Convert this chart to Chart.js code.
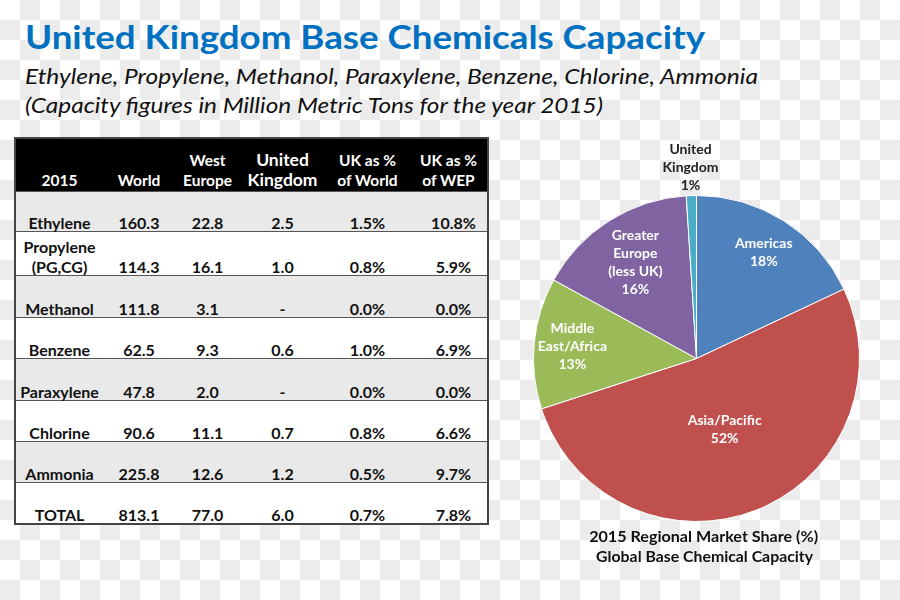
<!DOCTYPE html>
<html>
<head>
<meta charset="utf-8">
<script src="https://cdn.jsdelivr.net/npm/chart.js@4"></script>
<style>
  html, body { margin:0; padding:0; }
  body {
    width:900px; height:600px; position:relative; overflow:hidden;
    background: repeating-conic-gradient(#ececec 0 25%, #ffffff 0 50%) 0 0 / 40px 40px;
    font-family: Lato, "Open Sans", sans-serif;
  }
  .fit { position:absolute; white-space:nowrap; display:inline-block; transform-origin:0 0; line-height:1.2; }
  #title { left:25px; top:17px; font-size:33px; font-weight:bold; color:#0070c0; }
  #sub1 { left:25px; top:63px; font-size:22px; font-style:italic; color:#111; }
  #sub2 { left:25px; top:92px; font-size:22px; font-style:italic; color:#111; }
  #tbl { position:absolute; left:14px; top:137px; border-collapse:collapse; table-layout:fixed;
         border:2px solid #444; }
  #tbl td, #tbl th { padding:0 2px; text-align:center; vertical-align:bottom; font-weight:bold;
         font-size:16px; line-height:20px; color:#111; white-space:pre-line; }
  #tbl td span { position:relative; top:2px; }
  #tbl th { background:#000; color:#fff; height:51px; padding-bottom:1px; font-size:15.5px; }
  #tbl th.big { font-size:17.5px; }
  #tbl tr.g td { background:#e9e9e9; }
  #tbl tr.w td { background:#ffffff; }
  #tbl tr.row td { border-top:1.5px solid #555; }
  #pie { position:absolute; left:520px; top:140px; width:360px; height:400px; }
  .cap { position:absolute; font-size:16px; font-weight:bold; color:#111; transform-origin:50% 0; }
</style>
</head>
<body>
<div id="title" class="fit" data-w="680">United Kingdom Base Chemicals Capacity</div>
<div id="sub1" class="fit" data-w="733">Ethylene, Propylene, Methanol, Paraxylene, Benzene, Chlorine, Ammonia</div>
<div id="sub2" class="fit" data-w="578">(Capacity figures in Million Metric Tons for the year 2015)</div>
<table id="tbl"></table>
<div id="pie"><canvas id="c"></canvas></div>
<div id="cap1" class="fit cap" data-w="229" style="left:590px; top:526px;">2015 Regional Market Share (%)</div>
<div id="cap2" class="fit cap" data-w="217" style="left:595px; top:546px;">Global Base Chemical Capacity</div>
<script>
// ---- Table data ----
const headers = ["2015", "World", "West\nEurope", "United\nKingdom", "UK as %\nof World", "UK as %\nof WEP"];
const products = ["Ethylene", "Propylene (PG,CG)", "Methanol", "Benzene", "Paraxylene", "Chlorine", "Ammonia", "TOTAL"];
const world = [160.3, 114.3, 111.8, 62.5, 47.8, 90.6, 225.8, 813.1];
const westEurope = [22.8, 16.1, 3.1, 9.3, 2.0, 11.1, 12.6, 77.0];
const unitedKingdom = [2.5, 1.0, null, 0.6, null, 0.7, 1.2, 6.0];
const ukPctWorld = [1.5, 0.8, 0.0, 1.0, 0.0, 0.8, 0.5, 0.7];
const ukPctWEP = [10.8, 5.9, 0.0, 6.9, 0.0, 6.6, 9.7, 7.8];

// ---- Pie data ----
const regions = ["Americas", "Asia/Pacific", "Middle East/Africa", "Greater Europe (less UK)", "United Kingdom"];
const regionLines = [["Americas"], ["Asia/Pacific"], ["Middle", "East/Africa"], ["Greater", "Europe", "(less UK)"], ["United", "Kingdom"]];
const shares = [18, 52, 13, 16, 1];

// build table
const colW = [88, 72, 65, 85, 85, 78];
const rowH = [40, 44, 42, 41, 42, 41, 41, 41];
const tbl = document.getElementById('tbl');
const cg = document.createElement('colgroup');
colW.forEach(w => { const c = document.createElement('col'); c.style.width = w + 'px'; cg.appendChild(c); });
tbl.appendChild(cg);
const hr = document.createElement('tr');
headers.forEach((h, i) => {
  const th = document.createElement('th');
  th.textContent = h;
  if (i === 3) th.className = 'big';
  hr.appendChild(th);
});
tbl.appendChild(hr);
const fmt = v => v === null ? '-' : v.toFixed(1);
products.forEach((p, r) => {
  const tr = document.createElement('tr');
  tr.className = 'row ' + (r % 2 === 0 ? 'g' : 'w');
  const cells = [p, fmt(world[r]), fmt(westEurope[r]), fmt(unitedKingdom[r]), fmt(ukPctWorld[r]) + '%', fmt(ukPctWEP[r]) + '%'];
  cells.forEach((t, i) => {
    const td = document.createElement('td');
    const sp = document.createElement('span');
    sp.textContent = t;
    td.appendChild(sp);
    td.style.height = (rowH[r] - 1) + 'px';
    if (i === 5) td.style.paddingLeft = '12px';
    tr.appendChild(td);
  });
  tbl.appendChild(tr);
});

// fit text widths
document.querySelectorAll('.fit').forEach(el => {
  const target = +el.dataset.w;
  const w = el.getBoundingClientRect().width;
  if (w > 0) el.style.transform = 'scaleX(' + (target / w) + ')';
});

// pie labels plugin
const labelRadius = [0.77, 0.47, 0.765, 0.70, 1.17];
const labelColor = ['#fff', '#fff', '#fff', '#fff', '#222'];
const pieLabels = {
  id: 'pieLabels',
  afterDatasetsDraw(chart) {
    const ctx = chart.ctx;
    const meta = chart.getDatasetMeta(0);
    ctx.save();
    ctx.textAlign = 'center';
    ctx.textBaseline = 'middle';
    meta.data.forEach((arc, i) => {
      const p = arc.getProps(['x', 'y', 'startAngle', 'endAngle', 'outerRadius'], true);
      const mid = (p.startAngle + p.endAngle) / 2;
      const r = p.outerRadius * labelRadius[i];
      const cx = p.x + Math.cos(mid) * r;
      const cy = p.y + Math.sin(mid) * r;
      const lines = regionLines[i].concat([shares[i] + '%']);
      const lh = 18;
      ctx.fillStyle = labelColor[i];
      ctx.font = 'bold 14px Lato, "Open Sans", sans-serif';
      lines.forEach((t, k) => {
        ctx.fillText(t, cx, cy + (k - (lines.length - 1) / 2) * lh);
      });
    });
    ctx.restore();
  }
};

new Chart(document.getElementById('c'), {
  type: 'pie',
  data: {
    labels: regions,
    datasets: [{
      data: shares,
      backgroundColor: ['#4f81bd', '#c0504d', '#9bbb59', '#8064a2', '#4bacc6'],
      borderColor: '#ffffff',
      borderWidth: 1,
      hoverOffset: 0
    }]
  },
  options: {
    responsive: true,
    maintainAspectRatio: false,
    animation: false,
    layout: { padding: { left: 13, right: 20, top: 55, bottom: 18 } },
    plugins: { legend: { display: false }, tooltip: { enabled: false } }
  },
  plugins: [pieLabels]
});
</script>
</body>
</html>
